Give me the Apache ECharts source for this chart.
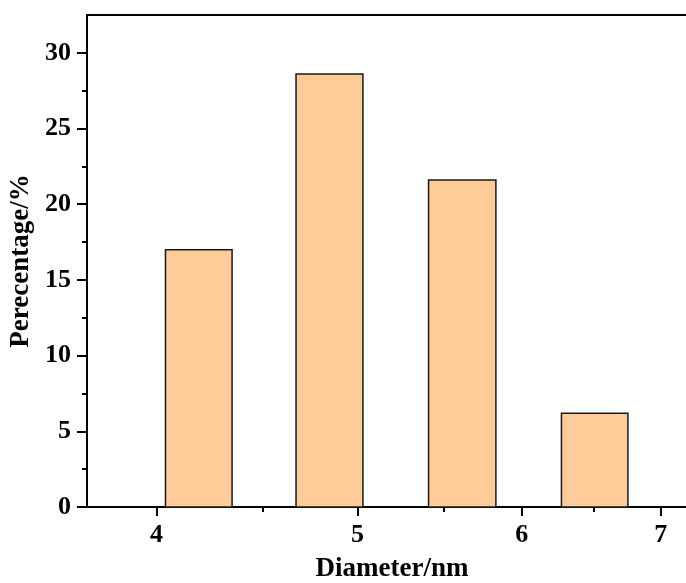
<!DOCTYPE html>
<html>
<head>
<meta charset="utf-8">
<script src="https://cdn.jsdelivr.net/npm/echarts@6/dist/echarts.min.js"></script>
<style>html,body{margin:0;padding:0;background:#fff;}#chart{width:686px;height:583px;}</style>
</head>
<body>
<div id="chart"></div>
<script>
// Data (diameters in nm, percentage in %)
const binStart = [4.04, 4.67, 5.41, 6.27];
const binEnd = [4.35, 5.03, 5.83, 6.75];
const percentage = [17.0, 28.6, 21.6, 6.2];
const xTicks = [4, 5, 6, 7];
const xMinorTicks = [4.5, 5.5, 6.5];
const yTicks = [0, 5, 10, 15, 20, 25, 30];
const yMinorTicks = [2.5, 7.5, 12.5, 17.5, 22.5, 27.5];
const xRange = [3.703, 7.288];
const yRange = [0, 32.5];

const lg = Math.log10;
const barData = binStart.map((s, i) => [lg(s), lg(binEnd[i]), percentage[i]]);
const font = 'Liberation Serif';
const chart = echarts.init(document.getElementById('chart'), null, {renderer: 'canvas'});
const GRID_W = 686 + 11 - 87;
const GRID_H = 492;
chart.setOption({
  animation: false,
  backgroundColor: '#fff',
  grid: {left: 87, top: 15, right: -11, height: GRID_H, containLabel: false, outerBoundsMode: 'none',
    show: true, borderColor: '#000', borderWidth: 2, backgroundColor: 'transparent'},
  xAxis: [{
    type: 'value', position: 'bottom', min: lg(xRange[0]), max: lg(xRange[1]),
    name: 'Diameter/nm', nameLocation: 'middle', nameGap: 49,
    nameTextStyle: {fontFamily: font, fontWeight: 'bold', fontSize: 27, color: '#000'},
    axisLine: {show: true, onZero: false, lineStyle: {color: '#000', width: 2}},
    axisTick: {show: true, length: 9, lineStyle: {color: '#000', width: 2}, customValues: xTicks.map(lg)},
    axisLabel: {show: true, margin: 15, fontFamily: font, fontWeight: 'bold', fontSize: 26, color: '#000',
      customValues: xTicks.map(lg), formatter: v => String(Math.round(Math.pow(10, v)))},
    splitLine: {show: false}
  }, {
    type: 'value', position: 'top', offset: -GRID_H, min: lg(xRange[0]), max: lg(xRange[1]),
    axisLine: {show: false},
    axisTick: {show: true, inside: true, length: 5, lineStyle: {color: '#000', width: 2}, customValues: xMinorTicks.map(lg)},
    axisLabel: {show: false},
    splitLine: {show: false}
  }],
  yAxis: [{
    type: 'value', position: 'left', min: yRange[0], max: yRange[1],
    name: 'Perecentage/%', nameLocation: 'middle', nameGap: 49,
    nameTextStyle: {fontFamily: font, fontWeight: 'bold', fontSize: 27, color: '#000'},
    axisLine: {show: true, onZero: false, lineStyle: {color: '#000', width: 2}},
    axisTick: {show: true, length: 10, lineStyle: {color: '#000', width: 2}, customValues: yTicks},
    axisLabel: {show: true, margin: 16, fontFamily: font, fontWeight: 'bold', fontSize: 26, color: '#000', customValues: yTicks},
    splitLine: {show: false}
  }, {
    type: 'value', position: 'right', offset: -GRID_W, min: yRange[0], max: yRange[1],
    axisLine: {show: false},
    axisTick: {show: true, inside: true, length: 5, lineStyle: {color: '#000', width: 2}, customValues: yMinorTicks},
    axisLabel: {show: false},
    splitLine: {show: false}
  }],
  series: [{
    type: 'custom',
    xAxisIndex: 0, yAxisIndex: 0,
    data: barData,
    encode: {x: [0, 1], y: 2},
    renderItem: function (params, api) {
      const p0 = api.coord([api.value(0), 0]);
      const p1 = api.coord([api.value(1), api.value(2)]);
      return {
        type: 'rect',
        shape: {x: p0[0], y: p1[1], width: p1[0] - p0[0], height: p0[1] - p1[1]},
        style: {fill: '#FFCC99', stroke: '#1a1a1a', lineWidth: 1.5}
      };
    }
  }]
});
</script>
</body>
</html>
